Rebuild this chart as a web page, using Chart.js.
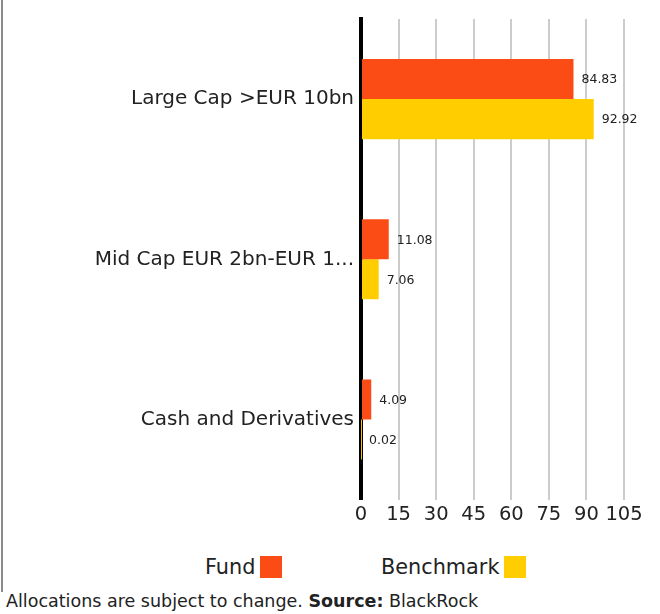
<!DOCTYPE html>
<html>
<head>
<meta charset="utf-8">
<script src="https://cdn.jsdelivr.net/npm/chart.js@4/dist/chart.umd.min.js"></script>
<style>
  html, body { margin: 0; padding: 0; background: #fff; }
  body { width: 660px; height: 614px; position: relative; overflow: hidden; font-family: "DejaVu Sans", sans-serif; color: #222; }
  #border { position: absolute; left: 1px; top: 0; width: 2px; height: 592px; background: #8a8a8a; }
  #wrap { position: absolute; left: 0; top: 0; width: 660px; height: 531px; }
  #legend { position: absolute; top: 554px; left: 0; width: 660px; height: 26px; font-size: 20.8px; }
  .item { position: absolute; top: 0; display: flex; align-items: center; height: 26px; }
  .box { display: inline-block; width: 22px; height: 22px; margin-left: 5px; }
  #foot { position: absolute; left: 6px; top: 591px; font-size: 17.5px; white-space: nowrap; }
</style>
</head>
<body>
<div id="border"></div>
<div id="wrap"><canvas id="c" width="660" height="531"></canvas></div>
<div id="legend"></div>
<div id="foot">Allocations are subject to change. <b>Source:</b> BlackRock</div>
<script>
const categories = ["Large Cap >EUR 10bn", "Mid Cap EUR 2bn-EUR 1...", "Cash and Derivatives"];
const fundValues = [84.83, 11.08, 4.09];
const benchmarkValues = [92.92, 7.06, 0.02];
const seriesNames = ["Fund", "Benchmark"];
const seriesColors = ["#FC4C16", "#FFCD00"];
const xTicks = [0, 15, 30, 45, 60, 75, 90, 105];

const FONT = "'DejaVu Sans', sans-serif";

const valueLabels = {
  id: 'valueLabels',
  afterDatasetsDraw(chart) {
    const ctx = chart.ctx;
    ctx.save();
    ctx.font = "12.5px " + FONT;
    ctx.fillStyle = "#222";
    ctx.textBaseline = "middle";
    ctx.textAlign = "left";
    chart.data.datasets.forEach((ds, i) => {
      const meta = chart.getDatasetMeta(i);
      meta.data.forEach((bar, j) => {
        ctx.fillText(ds.data[j].toFixed(2), bar.x + 8, bar.y + 1);
      });
    });
    ctx.restore();
  }
};

new Chart(document.getElementById('c'), {
  type: 'bar',
  data: {
    labels: categories,
    datasets: [
      { label: seriesNames[0], data: fundValues, backgroundColor: seriesColors[0] },
      { label: seriesNames[1], data: benchmarkValues, backgroundColor: seriesColors[1] }
    ]
  },
  options: {
    indexAxis: 'y',
    responsive: false,
    animation: false,
    categoryPercentage: 0.5,
    barPercentage: 1.0,
    layout: { padding: { top: 15, right: 36, left: 0, bottom: 0 } },
    plugins: { legend: { display: false }, tooltip: { enabled: false } },
    scales: {
      x: {
        min: 0, max: 105,
        afterBuildTicks: (s) => { s.ticks = xTicks.map(v => ({ value: v })); },
        grid: { color: "#cccccc", lineWidth: 2, drawTicks: false },
        border: { display: false },
        ticks: { font: { size: 19.5, family: FONT }, color: "#222", padding: 4, maxRotation: 0, autoSkip: false }
      },
      y: {
        z: 1,
        afterFit: (s) => { s.width = 361; },
        grid: { display: false, drawTicks: false },
        border: { display: true, color: "#000", width: 4 },
        ticks: { font: { size: 20, family: FONT }, color: "#222", padding: 7 }
      }
    }
  },
  plugins: [valueLabels]
});

const legend = document.getElementById('legend');
const legendX = [205, 381];
seriesNames.forEach((n, i) => {
  const d = document.createElement('div');
  d.className = 'item';
  d.style.left = legendX[i] + 'px';
  d.innerHTML = '<span>' + n + '</span><span class="box" style="background:' + seriesColors[i] + '"></span>';
  legend.appendChild(d);
});
</script>
</body>
</html>
